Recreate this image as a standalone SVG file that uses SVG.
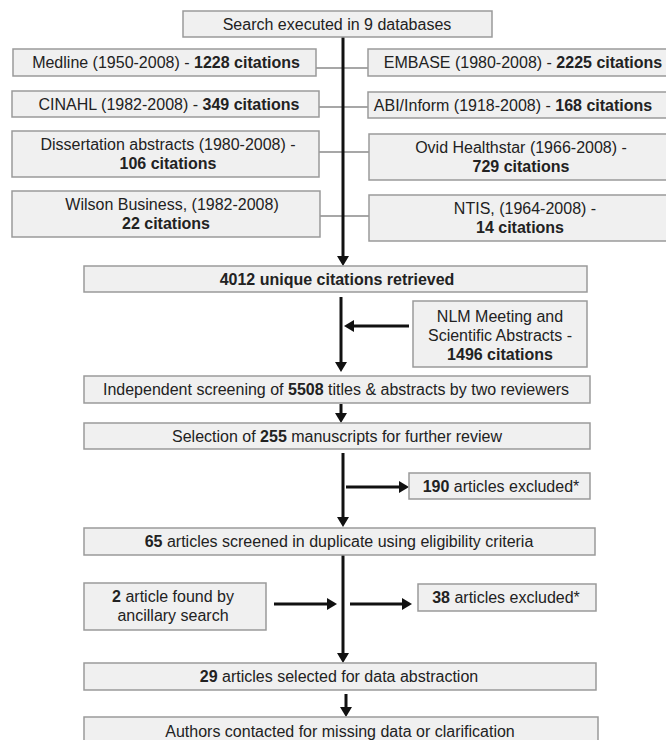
<svg xmlns="http://www.w3.org/2000/svg" width="666" height="740" viewBox="0 0 666 740">
<defs>
<marker id="ah" viewBox="0 0 10 12" markerWidth="10" markerHeight="12" refX="2" refY="6" orient="auto" markerUnits="userSpaceOnUse">
<path d="M0,0 L10,6 L0,12 z" fill="#111"/>
</marker>
<style>
.box{fill:#f0f0f0;stroke:#9a9a9a;stroke-width:1.5}
text{font-family:"Liberation Sans",Arial,sans-serif;font-size:16px;fill:#222;text-anchor:middle}
.b{font-weight:bold}
.ar{stroke:#111;stroke-width:3;fill:none;marker-end:url(#ah)}
.ln{stroke:#111;stroke-width:3;fill:none}
.gl{stroke:#8a8a8a;stroke-width:1.5;fill:none}
</style>
</defs>
<rect width="666" height="740" fill="#fff"/>
<g id="connectors">
<line class="gl" x1="316" y1="68" x2="368" y2="68"/>
<line class="gl" x1="319" y1="107" x2="368" y2="107"/>
<line class="gl" x1="318" y1="152" x2="369" y2="152"/>
<line class="gl" x1="320" y1="216" x2="369" y2="216"/>
<line class="ar" x1="343" y1="37" x2="343" y2="258"/>
<line class="ar" x1="341" y1="297" x2="341" y2="364"/>
<line class="ar" x1="409" y1="326" x2="352" y2="326"/>
<line class="ar" x1="341" y1="404" x2="341" y2="415"/>
<line class="ar" x1="343" y1="453" x2="343" y2="519"/>
<line class="ar" x1="346" y1="487" x2="401" y2="487"/>
<line class="ar" x1="343" y1="555" x2="343" y2="655"/>
<line class="ar" x1="274" y1="604" x2="329" y2="604"/>
<line class="ar" x1="350" y1="604" x2="404" y2="604"/>
<line class="ar" x1="346" y1="694" x2="346" y2="709"/>
</g>
<g id="search"><rect class="box" x="183" y="11" width="309" height="26"/><text x="337" y="30">Search executed in 9 databases</text></g>
<g id="medline"><rect class="box" x="13" y="49" width="303" height="27"/><text x="166" y="68">Medline (1950-2008) - <tspan class="b">1228 citations</tspan></text></g>
<g id="embase"><rect class="box" x="368" y="49" width="310" height="27"/><text x="523" y="68">EMBASE (1980-2008) - <tspan class="b">2225 citations</tspan></text></g>
<g id="cinahl"><rect class="box" x="12" y="91" width="307" height="26"/><text x="169" y="110">CINAHL (1982-2008) - <tspan class="b">349 citations</tspan></text></g>
<g id="abi"><rect class="box" x="368" y="92" width="310" height="26"/><text x="513" y="111">ABI/Inform (1918-2008) - <tspan class="b">168 citations</tspan></text></g>
<g id="dissertation"><rect class="box" x="12" y="131" width="307" height="46"/><text x="168" y="150">Dissertation abstracts (1980-2008) -</text><text x="168" y="169" class="b">106 citations</text></g>
<g id="ovid"><rect class="box" x="369" y="134" width="310" height="46"/><text x="521" y="153">Ovid Healthstar (1966-2008) -</text><text x="521" y="172" class="b">729 citations</text></g>
<g id="wilson"><rect class="box" x="12" y="191" width="308" height="46"/><text x="172" y="210">Wilson Business, (1982-2008)</text><text x="166" y="229" class="b">22 citations</text></g>
<g id="ntis"><rect class="box" x="369" y="195" width="310" height="46"/><text x="525" y="214">NTIS, (1964-2008) -</text><text x="520" y="233" class="b">14 citations</text></g>
<g id="unique"><rect class="box" x="84" y="266" width="503" height="26"/><text x="337" y="285" class="b">4012 unique citations retrieved</text></g>
<g id="nlm"><rect class="box" x="413" y="301" width="174" height="66"/><text x="500" y="322">NLM Meeting and</text><text x="500" y="341">Scientific Abstracts -</text><text x="500" y="360" class="b">1496 citations</text></g>
<g id="screening"><rect class="box" x="84" y="376" width="506" height="27"/><text x="336" y="395">Independent screening of <tspan class="b">5508</tspan> titles &amp; abstracts by two reviewers</text></g>
<g id="selection"><rect class="box" x="84" y="423" width="506" height="26"/><text x="337" y="442">Selection of <tspan class="b">255</tspan> manuscripts for further review</text></g>
<g id="excluded190"><rect class="box" x="409" y="473" width="181" height="26"/><text x="501" y="492"><tspan class="b">190</tspan> articles excluded*</text></g>
<g id="screened65"><rect class="box" x="84" y="528" width="511" height="27"/><text x="339" y="547"><tspan class="b">65</tspan> articles screened in duplicate using eligibility criteria</text></g>
<g id="ancillary"><rect class="box" x="84" y="583" width="182" height="47"/><text x="173" y="602"><tspan class="b">2</tspan> article found by</text><text x="173" y="621">ancillary search</text></g>
<g id="excluded38"><rect class="box" x="418" y="584" width="178" height="27"/><text x="506" y="603"><tspan class="b">38</tspan> articles excluded*</text></g>
<g id="selected29"><rect class="box" x="84" y="663" width="512" height="27"/><text x="339" y="682"><tspan class="b">29</tspan> articles selected for data abstraction</text></g>
<g id="authors"><rect class="box" x="84" y="717" width="514" height="30"/><text x="340" y="737">Authors contacted for missing data or clarification</text></g>
</svg>
